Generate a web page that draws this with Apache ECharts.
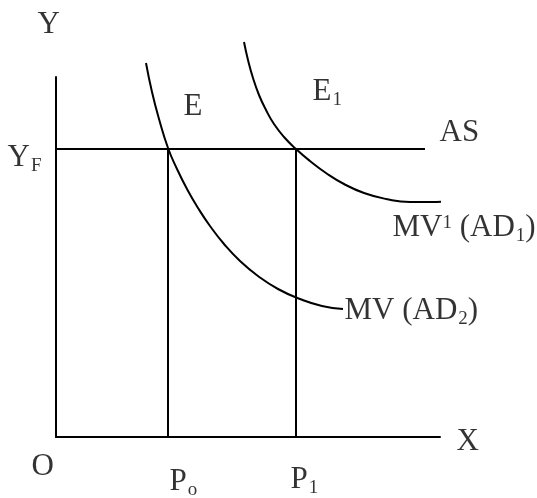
<!DOCTYPE html>
<html>
<head>
<meta charset="utf-8">
<script src="https://cdn.jsdelivr.net/npm/echarts@6/dist/echarts.min.js"></script>
<style>
  html, body { margin: 0; padding: 0; background: #fff; }
  #chart { width: 537px; height: 498px; }
</style>
</head>
<body>
<div id="chart"></div>
<script>
// x: price units from O, y: income units from O
var asLine = [[0, 288], [369, 288]];
var p0Line = [[112, 0], [112, 288]];
var p1Line = [[240, 0], [240, 288]];

// MV (AD2)
var ad2 = [[90, 374], [96, 345], [103, 318], [112, 289], [121, 268], [131, 248],
           [142, 229], [154, 211], [168, 193], [184, 176], [202, 161], [222, 148],
           [244, 138], [266, 131], [287, 128]];
// MV1 (AD1)
var ad1 = [[188, 395], [192, 377], [197, 359], [203, 342], [210, 327], [218, 313],
           [228, 300], [240, 288], [254, 276], [270, 264], [288, 253], [308, 244],
           [330, 238], [354, 235], [376, 235], [397, 236]];

// text, anchor point (left edge, a little above baseline)
var labels = [
    ['{m|Y}', -18, 412],
    ['{m|Y}{sub|F}', -48, 279],
    ['{m|E}', 128, 330],
    ['{m|E}{sub|1}', 257, 345],
    ['{m|AS}', 384, 304],
    ['{m|MV}{sup|1}{m| (AD}{sub|1}{m|)}', 337, 209],
    ['{m|MV (AD}{sub|2}{m|)}', 289, 126],
    ['{m|O}', -24, -30],
    ['{m|P}{sub|o}', 114, -45],
    ['{m|P}{sub|1}', 235, -43],
    ['{m|X}', 401, -5]
];

var font = 'Liberation Serif';

function lineSeries(data, smooth) {
    return {
        type: 'line',
        data: data,
        smooth: smooth,
        symbol: 'none',
        clip: false,
        silent: true,
        lineStyle: {color: '#000', width: 2}
    };
}

var option = {
    animation: false,
    grid: {left: 56, top: 77, width: 384, height: 360},
    xAxis: {
        type: 'value', min: 0, max: 384,
        axisLine: {show: true, onZero: false, lineStyle: {color: '#000', width: 2}},
        axisTick: {show: false}, axisLabel: {show: false}, splitLine: {show: false}
    },
    yAxis: {
        type: 'value', min: 0, max: 360,
        axisLine: {show: true, onZero: false, lineStyle: {color: '#000', width: 2}},
        axisTick: {show: false}, axisLabel: {show: false}, splitLine: {show: false}
    },
    series: [
        lineSeries(asLine, false),
        lineSeries(p0Line, false),
        lineSeries(p1Line, false),
        lineSeries(ad2, 0.5),
        lineSeries(ad1, 0.5),
        {
            type: 'scatter',
            clip: false,
            silent: true,
            symbolSize: 1,
            itemStyle: {color: 'rgba(0,0,0,0)'},
            data: labels.map(function (l) { return {value: [l[1], l[2]], text: l[0]}; }),
            label: {
                show: true,
                position: [0, 0],
                align: 'left',
                verticalAlign: 'middle',
                formatter: function (p) { return p.data.text; },
                rich: {
                    m: {fontFamily: font, fontSize: 31, color: '#000', lineHeight: 40, verticalAlign: 'middle'},
                    sub: {fontFamily: font, fontSize: 19, color: '#000', verticalAlign: 'top', padding: [19, 0, 0, 1]},
                    sup: {fontFamily: font, fontSize: 19, color: '#000', verticalAlign: 'top', padding: [6, 0, 0, 0]}
                }
            }
        }
    ]
};

var myChart = echarts.init(document.getElementById('chart'));
myChart.setOption(option);
</script>
</body>
</html>
